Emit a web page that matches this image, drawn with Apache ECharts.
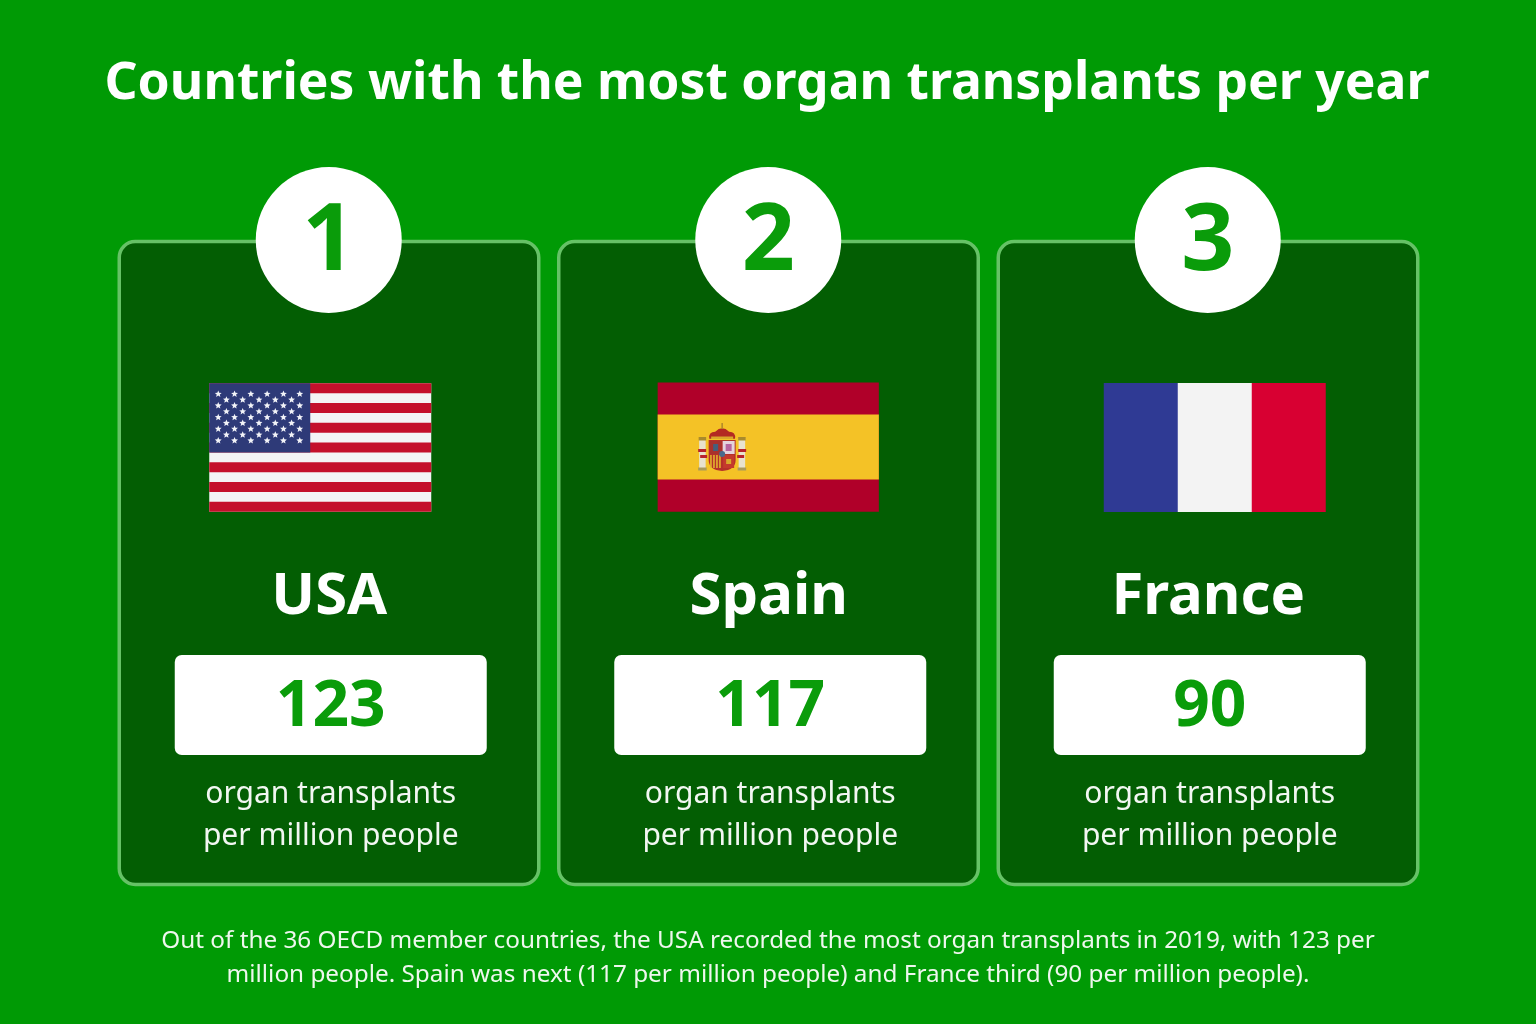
<!DOCTYPE html>
<html><head><meta charset="utf-8">
<style>html,body{margin:0;padding:0;background:#009a05}#c{width:1536px;height:1024px}</style>
<script src="https://cdn.jsdelivr.net/npm/echarts@6/dist/echarts.min.js"></script>
</head><body><div id="c"></div>
<script>
const categories = ['USA', 'Spain', 'France'];
const transplants = [123, 117, 90];
const ranks = [1, 2, 3];
const unitLines = ['organ transplants', 'per million people'];
const chartTitle = 'Countries with the most organ transplants per year';
const footerLines = [
  'Out of the 36 OECD member countries, the USA recorded the most organ transplants in 2019, with 123 per',
  'million people. Spain was next (117 per million people) and France third (90 per million people).'
];

const FONT = '"Noto Sans", "Open Sans", sans-serif';
const GREEN = '#0a9c0a';
const flagOffset = [-8.5, 0, 7];

function rect(x, y, w, h, fill, r) {
  return { type: 'rect', shape: { x, y, width: w, height: h, r: r || 0 }, style: { fill } };
}
function star(cx, cy, R) {
  const pts = [];
  for (let k = 0; k < 10; k++) {
    const rad = k % 2 ? R * 0.45 : R;
    const a = -Math.PI / 2 + k * Math.PI / 5;
    pts.push([cx + rad * Math.cos(a), cy + rad * Math.sin(a)]);
  }
  return { type: 'polygon', shape: { points: pts }, style: { fill: '#f2f3f8' } };
}
function flagUSA(cx) {
  const x0 = cx - 111, y0 = 383.3, W = 222, H = 128.4, s = H / 13, out = [];
  out.push(rect(x0, y0, W, H, '#f4f4f6'));
  for (let i = 0; i < 13; i += 2) out.push(rect(x0, y0 + i * s, W, s, '#c4102c'));
  out.push(rect(x0, y0, 101, s * 7, '#2e3a78'));
  for (let r = 0; r < 9; r++) {
    const n = r % 2 ? 5 : 6, off = r % 2 ? 8.15 : 0;
    for (let c = 0; c < n; c++) out.push(star(x0 + 9 + off + c * 16.3, y0 + 10.7 + r * 5.83, 3.6));
  }
  return out;
}
function flagSpain(cx) {
  const x0 = cx - 110.6, W = 221.2, y0 = 382.5, out = [];
  out.push(rect(x0, y0, W, 129.2, '#b00029'));
  out.push(rect(x0, 414.5, W, 65, '#f4c226'));
  const ax = x0 + 64.5; // coat of arms centre
  out.push(rect(ax - 23, 438, 6.5, 32, '#e8e2cf'), rect(ax + 16.5, 438, 6.5, 32, '#e8e2cf'));
  out.push(rect(ax - 23.5, 437, 7.5, 3.5, '#a98a2c'), rect(ax + 16, 437, 7.5, 3.5, '#a98a2c'));
  out.push(rect(ax - 24, 467.5, 8.5, 3, '#a99a5c'), rect(ax + 15.5, 467.5, 8.5, 3, '#a99a5c'));
  out.push(rect(ax - 24, 449, 8, 3, '#b8232c'), rect(ax + 16, 449, 8, 3, '#b8232c'));
  out.push(rect(ax - 22, 455, 7, 3, '#b8232c'), rect(ax + 15, 455, 7, 3, '#b8232c'));
  out.push({ type: 'path', shape: { pathData: 'M0 0H27V20Q27 30 13.5 31Q0 30 0 20Z', x: ax - 13.5, y: 440, width: 27, height: 31 }, style: { fill: '#b5302a' } });
  out.push(rect(ax - 12.5, 441, 12, 13, '#a8322c'), rect(ax + 0.5, 441, 12, 13, '#e4d4dc'));
  out.push(rect(ax - 9, 444, 5, 7, '#44607c'), rect(ax + 3.5, 444, 6, 7, '#b565a0'));
  for (let i = 0; i < 4; i++) out.push(rect(ax - 12 + i * 3, 455, 1.6, 13, '#e2b32e'));
  out.push(rect(ax + 1, 455, 11, 13, '#c43a2c'), rect(ax + 4, 459, 5, 5, '#d9a72b'));
  out.push({ type: 'circle', shape: { cx: ax, cy: 454, r: 3 }, style: { fill: '#4a6a8c' } });
  out.push({ type: 'path', shape: { pathData: 'M0 10Q-1 3 6 3Q13 -4 20 3Q27 3 26 10Z', x: ax - 13, y: 428, width: 26, height: 11 }, style: { fill: '#b32a22' } });
  out.push(rect(ax - 11, 436.5, 22, 2.5, '#d9a72b'), rect(ax - 0.8, 423, 1.6, 6, '#b38a2a'));
  return out;
}
function flagFrance(cx) {
  const x0 = cx - 111, y0 = 383, H = 129;
  return [rect(x0, y0, 74.5, H, '#2f3a94'), rect(x0 + 74, y0, 74.5, H, '#f3f3f3'), rect(x0 + 148, y0, 74, H, '#d80032')];
}
const flags = { USA: flagUSA, Spain: flagSpain, France: flagFrance };

function txt(x, y, text, size, weight, fill) {
  return { type: 'text', style: { x, y, text: String(text), fill, fontFamily: FONT, fontSize: size, fontWeight: weight, textAlign: 'center', textVerticalAlign: 'middle' } };
}

function renderCard(params, api) {
  const i = api.value(0);
  const cx = api.coord([i, 0])[0];
  const name = categories[i];
  const ch = [];
  ch.push({ type: 'rect', shape: { x: cx - 209.5, y: 241.5, width: 419.5, height: 643, r: 16 }, style: { fill: '#035e03', stroke: '#66c266', lineWidth: 3.5 } });
  ch.push({ type: 'circle', shape: { cx: cx, cy: 240, r: 73 }, style: { fill: '#ffffff' } });
  ch.push(txt(cx, 243, api.value(2), 93, 700, GREEN));
  ch.push(...flags[name](cx + flagOffset[i]));
  ch.push(txt(cx + 0.5, 597, name, 58, 700, '#ffffff'));
  ch.push({ type: 'rect', shape: { x: cx - 154, y: 655, width: 312, height: 100, r: 7 }, style: { fill: '#ffffff' } });
  ch.push(txt(cx + 2, 708, api.value(1), 64, 700, GREEN));
  ch.push(txt(cx + 2, 794, unitLines[0], 30, 400, '#f2f7f2'));
  ch.push(txt(cx + 2, 836, unitLines[1], 30, 400, '#f2f7f2'));
  return { type: 'group', children: ch };
}

const chart = echarts.init(document.getElementById('c'), null, { renderer: 'canvas' });
chart.setOption({
  animation: false,
  backgroundColor: '#009a05',
  title: {
    text: chartTitle, left: 762, top: 53, textAlign: 'center',
    textStyle: { fontFamily: FONT, fontSize: 51.6, fontWeight: 700, color: '#ffffff' }
  },
  grid: { left: 109, width: 1318.5, top: 0, height: 1024 },
  xAxis: { type: 'category', data: categories, show: false },
  yAxis: { type: 'value', min: 0, max: 150, show: false },
  series: [{
    type: 'custom',
    coordinateSystem: 'cartesian2d',
    renderItem: renderCard,
    encode: { x: 0, y: 1 },
    data: categories.map((c, i) => [i, transplants[i], ranks[i]]),
    clip: false
  }],
  graphic: footerLines.map((t, i) => ({
    type: 'text', x: 768, y: 941 + i * 34,
    style: { text: t, fill: '#eef7ee', fontFamily: FONT, fontSize: 24.3, textAlign: 'center', textVerticalAlign: 'middle' }
  }))
});
</script></body></html>
